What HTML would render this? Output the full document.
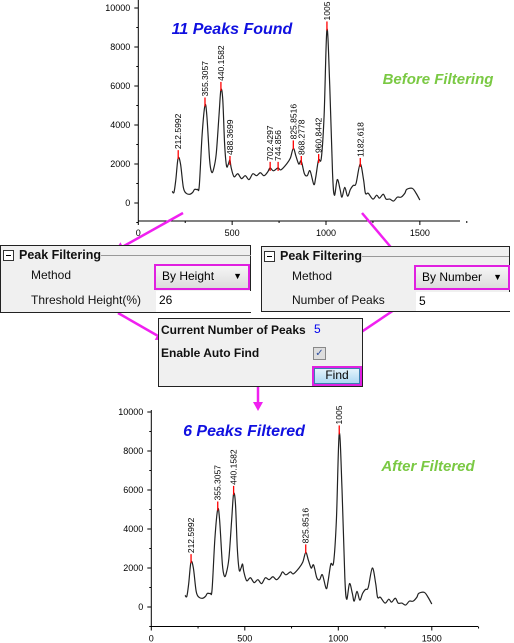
<!DOCTYPE html>
<html><head><meta charset="utf-8"><style>
body{margin:0;width:514px;height:643px;background:#fff;overflow:hidden;position:relative;font-family:"Liberation Sans",sans-serif}
.panel{position:absolute;background:#f0f0f0;border:1px solid #222;box-sizing:border-box}
.t{position:absolute;font-size:12px;color:#111;white-space:nowrap}
.b{font-weight:bold}
.dd{position:absolute;border:2px solid #e020e0;box-sizing:border-box;background:linear-gradient(#f6f6f6,#dcdcdc);font-size:12px;padding:3px 0 0 6px}
.inp{position:absolute;background:#fff;font-size:12px;padding:2px 0 0 3px;box-sizing:border-box}
svg{position:absolute;left:0;top:0}
</style></head><body>
<svg id="svg" width="514" height="643"></svg>

<div class="panel" style="left:0;top:245px;width:251px;height:68px">
 <div class="t b" style="left:18px;top:2px;font-size:12.5px">Peak Filtering</div>
 <div style="position:absolute;left:2px;top:4px;width:9px;height:9px;border:1px solid #333;background:#fff"><div style="position:absolute;left:2px;top:4px;width:5px;height:1px;background:#000"></div></div>
 <div style="position:absolute;left:100px;top:9px;width:150px;height:1px;background:#999"></div>
 <div class="t" style="left:30px;top:22px">Method</div>
 <div class="dd" style="left:153px;top:18px;width:96px;height:26px">By Height<span style="position:absolute;right:6px;top:5px;font-size:9px">▼</span></div>
 <div class="t" style="left:30px;top:47px">Threshold Height(%)</div>
 <div class="inp" style="left:155px;top:45px;width:95px;height:21px">26</div>
</div>

<div class="panel" style="left:261px;top:246px;width:249px;height:66px">
 <div class="t b" style="left:18px;top:2px;font-size:12.5px">Peak Filtering</div>
 <div style="position:absolute;left:2px;top:4px;width:9px;height:9px;border:1px solid #333;background:#fff"><div style="position:absolute;left:2px;top:4px;width:5px;height:1px;background:#000"></div></div>
 <div style="position:absolute;left:100px;top:9px;width:147px;height:1px;background:#999"></div>
 <div class="t" style="left:30px;top:22px">Method</div>
 <div class="dd" style="left:152px;top:18px;width:96px;height:25px">By Number<span style="position:absolute;right:6px;top:5px;font-size:9px">▼</span></div>
 <div class="t" style="left:30px;top:46px">Number of Peaks</div>
 <div class="inp" style="left:154px;top:45px;width:94px;height:19px">5</div>
</div>

<div class="panel" style="left:158px;top:318px;width:205px;height:69px">
 <div class="t b" style="left:2px;top:4px">Current Number of Peaks</div>
 <div class="t" style="left:155px;top:3px;color:#0000ee">5</div>
 <div class="t b" style="left:2px;top:27px">Enable Auto Find</div>
 <div style="position:absolute;left:154px;top:28px;width:11px;height:11px;border:1px solid #888;background:#ddd;font-size:10px;line-height:11px;color:#3050a0;text-align:center">✓</div>
 <div style="position:absolute;left:153px;top:47px;width:50px;height:20px;border:2px solid #e020e0;box-sizing:border-box;background:linear-gradient(#e8f4fc,#a9d6f2);font-size:12px;text-align:center;line-height:15px;outline:1px solid #3c7fb1;outline-offset:-3px">Find</div>
</div>

<script>
const xs=[180,190,200,212,225,240,255,275,290,300,315,325,340,355,365,380,390,400,415,430,440,450,460,470,480,488,495,510,530,550,570,590,610,630,650,670,690,702,720,744,760,790,810,826,840,855,868,885,900,915,935,945,960,975,990,1005,1020,1035,1045,1060,1075,1085,1100,1115,1130,1145,1160,1182,1200,1210,1225,1250,1270,1285,1305,1320,1340,1360,1380,1400,1420,1430,1460,1480,1500];
const ys=[600,550,1200,2300,2000,800,500,450,550,700,700,900,3500,5000,4500,2200,1600,1700,2500,4500,5800,5300,3000,1900,2000,2200,1800,1350,1500,1250,1400,1200,1500,1400,1550,1400,1600,1800,1650,1800,1700,2000,2300,2800,2400,2000,2150,1500,1400,1650,950,1300,2200,2300,4500,8900,6000,1500,400,1200,700,300,800,350,700,900,1000,2000,1200,500,500,200,400,250,450,200,200,100,300,300,500,700,750,500,150];
const peaksAllX=[212.5992,355.3057,440.1582,488.3699,702.4297,744.856,825.8516,868.2778,960.8442,1005,1182.618];
const peaksAllY=[2300,5000,5800,2000,1700,1700,2800,2000,2100,8900,1900];
const peaksAllLbl=["212.5992","355.3057","440.1582","488.3699","702.4297","744.856","825.8516","868.2778","960.8442","1005","1182.618"];
const peaksFX=[212.5992,355.3057,440.1582,825.8516,1005];
const peaksFY=[2300,5000,5800,2800,8900];
const peaksFLbl=["212.5992","355.3057","440.1582","825.8516","1005"];
const xTicks=[0,500,1000,1500];
const yTicks=[0,2000,4000,6000,8000,10000];

const svg=document.getElementById('svg');const NS='http://www.w3.org/2000/svg';
function mk(t,a,p){const e=document.createElementNS(NS,t);for(const k in a)e.setAttribute(k,a[k]);(p||svg).appendChild(e);return e;}
function chart(o,px,py,plbl,name){
 const g=mk('g',{});
 
 
 const X=v=>o.x0+v*o.kx, Y=v=>o.y0-v*o.ky;
 mk('line',{x1:o.x0,y1:o.top,x2:o.x0,y2:o.axY,stroke:'#000','stroke-width':1},g);
 mk('line',{x1:o.x0,y1:o.axY,x2:o.right,y2:o.axY,stroke:'#000','stroke-width':1},g);
 for(let v=0;v<=1750;v+=250){mk('line',{x1:X(v),y1:o.axY,x2:X(v),y2:o.axY+(v%500?2:4),stroke:'#000'},g);}
 for(let v=-1000;v<=10000;v+=1000){mk('line',{x1:o.x0,y1:Y(v),x2:o.x0-(v%2000?2:4),y2:Y(v),stroke:'#000'},g);}
 xTicks.forEach(v=>{const t=mk('text',{x:X(v),y:o.axY+15,'font-size':9,'text-anchor':'middle',fill:'#000'},g);t.textContent=v;});
 yTicks.forEach(v=>{const t=mk('text',{x:o.x0-8,y:Y(v)+3,'font-size':9,'text-anchor':'end',fill:'#000'},g);t.textContent=v;});
 const P=xs.map((x,i)=>[X(x),Y(ys[i])]);
 let d='M'+P[0][0]+','+P[0][1];
 for(let i=0;i<P.length-1;i++){const p0=P[i-1]||P[i],p1=P[i],p2=P[i+1],p3=P[i+2]||p2;
  d+=`C${p1[0]+(p2[0]-p0[0])/6},${p1[1]+(p2[1]-p0[1])/6} ${p2[0]-(p3[0]-p1[0])/6},${p2[1]-(p3[1]-p1[1])/6} ${p2[0]},${p2[1]}`;}
 const c=mk('path',{d:d,fill:'none',stroke:'#222','stroke-width':1.2},g);
 
 px.forEach((v,i)=>{const x=X(v),y=Y(py[i]);
  const l=mk('line',{x1:x,y1:y+1,x2:x,y2:y-8,stroke:'#ff0000','stroke-width':1.3},g);
  
  const t=mk('text',{x:0,y:0,'font-size':8.5,fill:'#000',transform:`translate(${x+3},${y-9}) rotate(-90)`},g);
  t.textContent=plbl[i];});
}
chart({x0:138.3,kx:0.1877,y0:203,ky:0.0195,axY:221,top:0,right:460},peaksAllX,peaksAllY,peaksAllLbl,'chart-before');
chart({x0:151.3,kx:0.187,y0:607,ky:0.0195,axY:626.5,top:410,right:478},peaksFX,peaksFY,peaksFLbl,'chart-after');
function txt(s,x,y,col,size,name){const t=mk('text',{x:x,y:y,fill:col,'font-size':size,'font-weight':'bold','font-style':'italic','text-anchor':'middle'});t.textContent=s;}
txt('11 Peaks Found',232,34,'#1010e0',16,'found-title');
txt('Before Filtering',438,84,'#7ac943',15,'before-label');
txt('6 Peaks Filtered',244,436,'#1010e0',16,'filtered-title');
txt('After Filtered',428,471,'#7ac943',15,'after-label');
function arrow(x1,y1,x2,y2,name){const a=Math.atan2(y2-y1,x2-x1),h=9,w=5;
 const g=mk('g',{});
 mk('line',{x1:x1,y1:y1,x2:x2-Math.cos(a)*h,y2:y2-Math.sin(a)*h,stroke:'#f020f0','stroke-width':2.5},g);
 const bx=x2-Math.cos(a)*h,by=y2-Math.sin(a)*h;
 mk('polygon',{points:`${x2},${y2} ${bx+Math.sin(a)*w},${by-Math.cos(a)*w} ${bx-Math.sin(a)*w},${by+Math.cos(a)*w}`,fill:'#f020f0'},g);}
arrow(183,213,115,251,'arrow-to-height-panel');
arrow(362,213,400,258,'arrow-to-number-panel');
arrow(118,313,165,340,'arrow-height-to-find');
arrow(397,308,351,339,'arrow-number-to-find');
arrow(258,375,258,411,'arrow-find-to-after');
</script>
</body></html>
